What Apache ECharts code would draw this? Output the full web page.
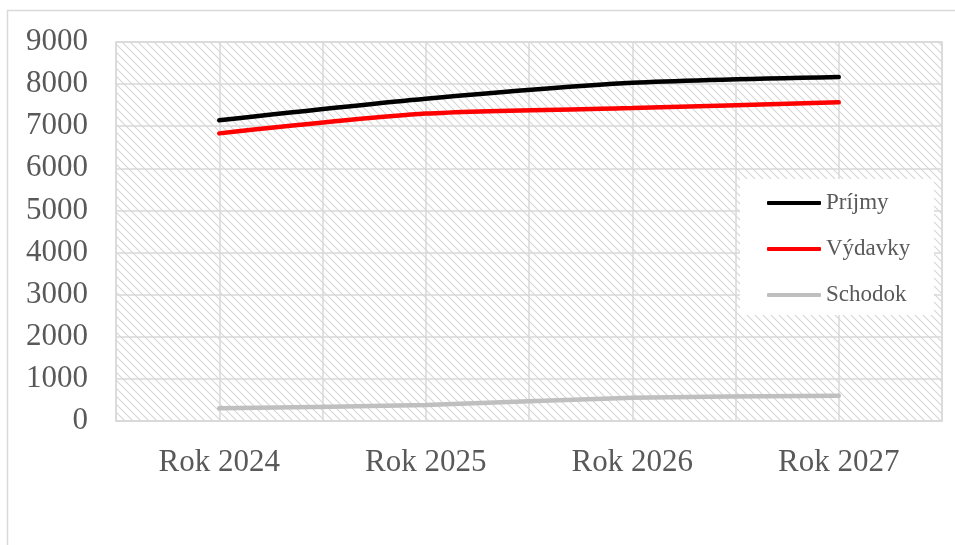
<!DOCTYPE html>
<html>
<head>
<meta charset="utf-8">
<script src="https://cdn.jsdelivr.net/npm/echarts@6/dist/echarts.min.js"></script>
<style>
  html, body { margin: 0; padding: 0; background: #fff; }
  #chart { width: 955px; height: 545px; }
</style>
</head>
<body>
<div id="chart"></div>
<script>
// Budget outlook 2024–2027
const years = ['Rok 2024', 'Rok 2025', 'Rok 2026', 'Rok 2027'];
const prijmy = [7140, 7650, 8030, 8170];
const vydavky = [6830, 7300, 7430, 7570];
const schodok = [300, 380, 550, 600];
const yTicks = { min: 0, max: 9000, step: 1000 };

// Light downward-diagonal hatch for the plot area
function hatchPattern() {
  const c = document.createElement('canvas');
  const s = 8;
  c.width = s; c.height = s;
  const g = c.getContext('2d');
  g.fillStyle = '#ffffff';
  g.fillRect(0, 0, s, s);
  g.strokeStyle = '#d6d6d6';
  g.lineWidth = 1.1;
  g.beginPath();
  g.moveTo(-2, -2); g.lineTo(s + 2, s + 2);
  g.moveTo(-2, s - 2); g.lineTo(2, s + 2);
  g.moveTo(s - 2, -2); g.lineTo(s + 2, 2);
  g.stroke();
  return c;
}

const chart = echarts.init(document.getElementById('chart'));
const font = '"Liberation Serif", "Times New Roman", serif';
const gridColor = '#d9d9d9';

const mkLine = (name, data, color) => ({
  name, type: 'line', data,
  xAxisIndex: 0, yAxisIndex: 0,
  smooth: 0.25, symbol: 'none',
  lineStyle: { color, width: 4.5, cap: 'round' },
  itemStyle: { color },
  z: 3
});

chart.setOption({
  animation: false,
  backgroundColor: '#ffffff',
  graphic: [
    {
      type: 'rect', z: 0, silent: true,
      shape: { x: 7.5, y: 10.5, width: 960, height: 560 },
      style: { fill: 'none', stroke: gridColor, lineWidth: 1.5 }
    },
    {
      type: 'rect', z: 5, silent: true,
      shape: { x: 740, y: 179, width: 194, height: 136 },
      style: { fill: '#ffffff' }
    }
  ],
  grid: {
    left: 116, top: 42, right: 13, bottom: 124,
    show: true,
    backgroundColor: { image: hatchPattern(), repeat: 'repeat' },
    borderColor: gridColor, borderWidth: 1.5
  },
  legend: {
    orient: 'vertical',
    left: 762, top: 185,
    itemWidth: 54, itemHeight: 4,
    itemGap: 20,
    icon: 'roundRect',
    z: 6,
    textStyle: { fontFamily: font, fontSize: 23, color: '#595959', lineHeight: 26 },
    data: ['Príjmy', 'Výdavky', 'Schodok']
  },
  xAxis: [
    {
      type: 'category', data: years, boundaryGap: true,
      axisLine: { show: true, lineStyle: { color: gridColor, width: 1.5 } },
      axisTick: { show: false },
      splitLine: { show: false },
      axisLabel: { fontFamily: font, fontSize: 31, color: '#595959', margin: 26 }
    },
    {
      // finer vertical gridlines at half-category steps
      type: 'value', min: 0, max: 8, interval: 1,
      position: 'bottom', show: true,
      axisLine: { show: false }, axisTick: { show: false }, axisLabel: { show: false },
      splitLine: { show: true, lineStyle: { color: gridColor, width: 1.5 } }
    }
  ],
  yAxis: {
    type: 'value', min: yTicks.min, max: yTicks.max, interval: yTicks.step,
    axisLine: { show: false }, axisTick: { show: false },
    splitLine: { show: true, lineStyle: { color: gridColor, width: 1.5 } },
    axisLabel: {
      fontFamily: font, fontSize: 31, color: '#595959', margin: 28,
      formatter: v => String(v)
    }
  },
  series: [
    mkLine('Príjmy', prijmy, '#000000'),
    mkLine('Výdavky', vydavky, '#ff0000'),
    mkLine('Schodok', schodok, '#bfbfbf')
  ]
});
</script>
</body>
</html>
